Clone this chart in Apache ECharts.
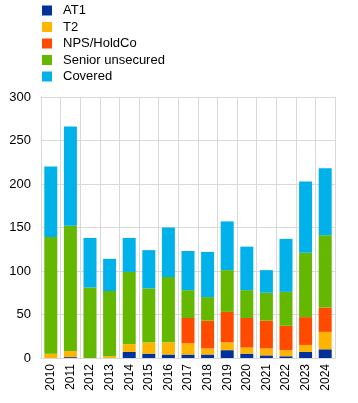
<!DOCTYPE html>
<html><head><meta charset="utf-8">
<script src="https://cdn.jsdelivr.net/npm/echarts@6/dist/echarts.min.js"></script>
<style>html,body{margin:0;padding:0;background:#fff}#c{width:358px;height:403px}</style>
</head><body><div id="c"></div>
<script>
var years = ['2010','2011','2012','2013','2014','2015','2016','2017','2018','2019','2020','2021','2022','2023','2024'];
var at1 =      [0, 1, 0, 0, 7, 5, 4, 4, 4, 9, 5, 3, 2, 7, 10];
var t2 =       [5, 7, 0, 2, 9, 13, 14, 13, 7, 9, 7, 8, 7, 8, 20];
var nps =      [0, 0, 0, 0, 0, 0, 0, 29, 32, 35, 34, 32, 28, 32, 28];
var senior =   [134, 144, 81, 75, 83, 62, 75, 32, 27, 48, 32, 32, 39, 74, 83];
var covered =  [81, 114, 57, 37, 39, 44, 57, 45, 52, 56, 50, 26, 61, 82, 77];
var yTicks = {min: 0, max: 300, interval: 50};

var names = ['AT1','T2','NPS/HoldCo','Senior unsecured','Covered'];
var colors = ['#003299','#ffb400','#ff4b00','#65b800','#00b1ea'];
var datas = [at1, t2, nps, senior, covered];
var font = 'Liberation Sans, Arial, sans-serif';
var chart = echarts.init(document.getElementById('c'), null, {renderer:'canvas'});
chart.setOption({
  animation: false,
  color: colors,
  legend: {
    orient: 'vertical', left: 42, top: 4, padding: 0, itemWidth: 10, itemHeight: 10, itemGap: 3.5,
    icon: 'rect',
    textStyle: {fontFamily: font, fontSize: 13, color: '#000', padding: [0,0,0,6]},
    data: names
  },
  grid: {left: 41, right: 23, top: 97, bottom: 45, containLabel: false},
  xAxis: {
    type: 'category', data: years, boundaryGap: true,
    axisLine: {show: true, lineStyle: {color: '#d9d9d9', width: 1}},
    axisTick: {show: false},
    splitLine: {show: true, lineStyle: {color: '#d9d9d9', width: 1}},
    axisLabel: {rotate: 90, fontFamily: font, fontSize: 12, color: '#000', margin: 6, interval: 0}
  },
  yAxis: {
    type: 'value', min: yTicks.min, max: yTicks.max, interval: yTicks.interval,
    axisLine: {show: true, lineStyle: {color: '#d9d9d9'}},
    axisTick: {show: false},
    splitLine: {show: true, lineStyle: {color: '#d9d9d9', width: 1}},
    axisLabel: {fontFamily: font, fontSize: 13, color: '#000', margin: 10}
  },
  series: names.map(function(n, i){
    return {name: n, type: 'bar', stack: 'total', data: datas[i], barWidth: 13,
      itemStyle: {color: colors[i]}};
  })
});
</script></body></html>
